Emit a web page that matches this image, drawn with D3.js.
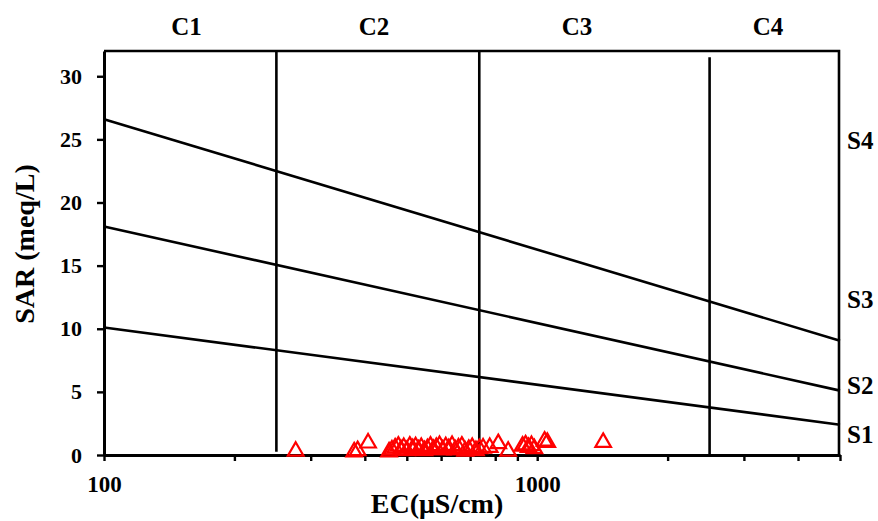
<!DOCTYPE html>
<html>
<head>
<meta charset="utf-8">
<script src="https://cdn.jsdelivr.net/npm/d3@7"></script>
<style>
  html, body { margin: 0; padding: 0; background: #fff; }
  svg { display: block; }
  text { font-family: "Liberation Serif", "Times New Roman", serif; font-weight: bold; fill: #000; }
</style>
</head>
<body>
<svg id="chart" width="878" height="521"></svg>
<script>
// ---- data ----
const ecValues  = [277, 378, 385, 407, 455, 462, 470, 478, 485, 492, 500, 508, 516, 524, 532, 540, 549, 558, 567, 576, 585, 595, 605, 615, 625, 636, 647, 658, 670, 682, 695, 708, 722, 735, 750, 777, 813, 857, 925, 940, 955, 970, 985, 1040, 1055, 1420];
const sarValues = [0.3, 0.25, 0.35, 0.95, 0.25, 0.4, 0.55, 0.7, 0.4, 0.6, 0.35, 0.7, 0.5, 0.65, 0.4, 0.6, 0.35, 0.5, 0.7, 0.45, 0.6, 0.75, 0.4, 0.65, 0.5, 0.75, 0.4, 0.55, 0.7, 0.3, 0.45, 0.6, 0.35, 0.5, 0.55, 0.6, 0.9, 0.3, 0.7, 0.8, 0.6, 0.75, 0.5, 1.1, 1.0, 1.0];

// sodium hazard boundary lines (SAR at EC = 100 and EC = 5000)
const boundaryEC = [100, 5000];
const boundaryS1S2 = [10.1, 2.4];
const boundaryS2S3 = [18.1, 5.1];
const boundaryS3S4 = [26.6, 9.05];

// salinity class boundaries (EC) with their vertical extents (SAR)
const classBoundEC = [250, 735, 2500];
const classBoundTop = [32, 32, 31.5];
const classBoundBottom = [0.25, 0, 0];

const cLabels = ["C1", "C2", "C3", "C4"];
const cLabelEC = [155, 420, 1235, 3410];
const sLabels = ["S1", "S2", "S3", "S4"];
const sLabelSAR = [1.6, 5.5, 12.3, 24.9];

const yTicks = [0, 5, 10, 15, 20, 25, 30];
const xTicks = [100, 200, 300, 400, 500, 600, 700, 800, 900, 1000, 2000, 3000, 4000, 5000];
const xTickLabels = [100, 1000];

// ---- layout ----
const svg = d3.select("#chart");
const pL = 104, pR = 840, pT = 51, pB = 455;

const x = d3.scaleLog().domain([100, 5000]).range([pL, pR]);
const y = d3.scaleLinear().domain([0, 32]).range([pB, pT]);

// frame (top and right)
svg.append("path")
  .attr("d", `M${pL},${pT}H${pR - 1}V${pB}`)
  .attr("fill", "none").attr("stroke", "#000").attr("stroke-width", 2.6);

// axes
const yAxis = d3.axisLeft(y).tickValues(yTicks).tickSize(7).tickPadding(15).tickSizeOuter(0);
const gy = svg.append("g").attr("transform", `translate(${pL},0)`).call(yAxis);
gy.selectAll("text").style("font-size", "22px");

const xAxis = d3.axisBottom(x).tickValues(xTicks).tickSize(6).tickPadding(15).tickSizeOuter(0)
  .tickFormat(d => xTickLabels.includes(d) ? String(d) : "");
const gx = svg.append("g").attr("transform", `translate(0,${pB})`).call(xAxis);
gx.selectAll("text").style("font-size", "23px");

[gx, gy].forEach(g => {
  g.attr("font-family", null).attr("font-size", null);
  g.select(".domain").attr("stroke", "#000").attr("stroke-width", 3);
  g.selectAll(".tick line").attr("stroke", "#000").attr("stroke-width", 2.4);
});

// class boundary vertical lines
classBoundEC.forEach((ec, i) => {
  svg.append("line")
    .attr("x1", x(ec)).attr("x2", x(ec))
    .attr("y1", y(classBoundTop[i])).attr("y2", y(classBoundBottom[i]))
    .attr("stroke", "#000").attr("stroke-width", 2.6);
});

// SAR boundary lines
const lineGen = d3.line().x(d => x(d[0])).y(d => y(d[1]));
[boundaryS1S2, boundaryS2S3, boundaryS3S4].forEach(vals => {
  svg.append("path")
    .attr("d", lineGen(boundaryEC.map((ec, i) => [ec, vals[i]])))
    .attr("fill", "none").attr("stroke", "#000").attr("stroke-width", 2.6);
});

// data points
const tri = d3.symbol().type(d3.symbolTriangle).size(105);
svg.append("g").selectAll("path")
  .data(ecValues.map((ec, i) => [ec, sarValues[i]]))
  .join("path")
  .attr("d", tri)
  .attr("transform", d => `translate(${x(d[0])},${y(d[1])})`)
  .attr("fill", "none").attr("stroke", "#ff0000").attr("stroke-width", 2.2);

// C labels
svg.append("g").selectAll("text").data(cLabels).join("text")
  .attr("x", (d, i) => x(cLabelEC[i])).attr("y", 35)
  .attr("text-anchor", "middle").style("font-size", "25px")
  .text(d => d);

// S labels
svg.append("g").selectAll("text").data(sLabels).join("text")
  .attr("x", 847).attr("y", (d, i) => y(sLabelSAR[i])).attr("dy", "0.33em")
  .style("font-size", "25px")
  .text(d => d);

// axis titles
svg.append("text").attr("x", 437).attr("y", 513).attr("text-anchor", "middle")
  .style("font-size", "28px").text("EC(μS/cm)");
svg.append("text").attr("transform", "translate(34,244) rotate(-90)")
  .attr("text-anchor", "middle").style("font-size", "28px").text("SAR (meq/L)");
</script>
</body>
</html>
